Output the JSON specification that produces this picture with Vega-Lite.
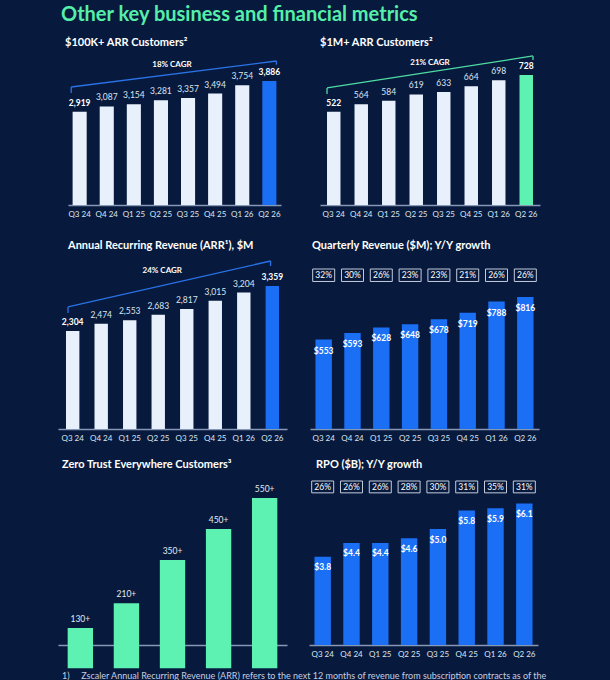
{
  "$schema": "https://vega.github.io/schema/vega-lite/v6.json",
  "background": "#071a3d",
  "padding": {"left": 58, "top": 5, "right": 80, "bottom": 20},
  "title": {
    "text": "Other key business and financial metrics",
    "color": "#55efaa",
    "fontSize": 20,
    "fontWeight": "bold",
    "anchor": "start",
    "dx": 3,
    "offset": 12
  },
  "datasets": {
    "c100k": [
      {"q": "Q3 24", "v": 2919}, {"q": "Q4 24", "v": 3087}, {"q": "Q1 25", "v": 3154}, {"q": "Q2 25", "v": 3281},
      {"q": "Q3 25", "v": 3357}, {"q": "Q4 25", "v": 3494}, {"q": "Q1 26", "v": 3754}, {"q": "Q2 26", "v": 3886}
    ],
    "c1m": [
      {"q": "Q3 24", "v": 522}, {"q": "Q4 24", "v": 564}, {"q": "Q1 25", "v": 584}, {"q": "Q2 25", "v": 619},
      {"q": "Q3 25", "v": 633}, {"q": "Q4 25", "v": 664}, {"q": "Q1 26", "v": 698}, {"q": "Q2 26", "v": 728}
    ],
    "arr": [
      {"q": "Q3 24", "v": 2304}, {"q": "Q4 24", "v": 2474}, {"q": "Q1 25", "v": 2553}, {"q": "Q2 25", "v": 2683},
      {"q": "Q3 25", "v": 2817}, {"q": "Q4 25", "v": 3015}, {"q": "Q1 26", "v": 3204}, {"q": "Q2 26", "v": 3359}
    ],
    "rev": [
      {"q": "Q3 24", "v": 553, "g": "32%"}, {"q": "Q4 24", "v": 593, "g": "30%"}, {"q": "Q1 25", "v": 628, "g": "26%"}, {"q": "Q2 25", "v": 648, "g": "23%"},
      {"q": "Q3 25", "v": 678, "g": "23%"}, {"q": "Q4 25", "v": 719, "g": "21%"}, {"q": "Q1 26", "v": 788, "g": "26%"}, {"q": "Q2 26", "v": 816, "g": "26%"}
    ],
    "zt": [
      {"q": "Q2 25", "v": 130, "label": "130+"}, {"q": "Q3 25", "v": 210, "label": "210+"}, {"q": "Q4 25", "v": 350, "label": "350+"},
      {"q": "Q1 26", "v": 450, "label": "450+"}, {"q": "Q2 26", "v": 550, "label": "550+"}
    ],
    "rpo": [
      {"q": "Q3 24", "v": 3.8, "g": "26%"}, {"q": "Q4 24", "v": 4.4, "g": "26%"}, {"q": "Q1 25", "v": 4.4, "g": "26%"}, {"q": "Q2 25", "v": 4.6, "g": "28%"},
      {"q": "Q3 25", "v": 5.0, "g": "30%"}, {"q": "Q4 25", "v": 5.8, "g": "31%"}, {"q": "Q1 26", "v": 5.9, "g": "35%"}, {"q": "Q2 26", "v": 6.1, "g": "31%"}
    ]
  },
  "vconcat": [
    {
      "hconcat": [
        {
          "width": 223,
          "height": 151,
          "title": {"text": "$100K+ ARR Customers²", "dx": 7, "offset": 6},
          "data": {"name": "c100k"},
          "layer": [
            {
              "mark": {"type": "bar"},
              "encoding": {
                "x": {"field": "q", "type": "ordinal", "title": null,
                  "scale": {"domain": ["Q3 24", "Q4 24", "Q1 25", "Q2 25", "Q3 25", "Q4 25", "Q1 26", "Q2 26"], "range": [10, 223], "paddingInner": 0.48, "paddingOuter": 0.17}},
                "y": {"field": "v", "type": "quantitative", "axis": null, "scale": {"domain": [0, 4732], "nice": false}},
                "color": {"condition": {"test": "datum.q === 'Q2 26'", "value": "#1b6ff5"}, "value": "#e8f0fb"}
              }
            },
            {
              "transform": [{"filter": "datum.q === 'Q3 24' || datum.q === 'Q2 26'"}],
              "mark": {"type": "text", "baseline": "bottom", "dy": -4, "fontSize": 8.5, "fontWeight": "bold", "color": "#ffffff"},
              "encoding": {
                "x": {"field": "q", "type": "ordinal", "title": null},
                "y": {"field": "v", "type": "quantitative", "axis": null},
                "text": {"field": "v", "type": "quantitative", "format": ","}
              }
            },
            {
              "transform": [{"filter": "datum.q !== 'Q3 24' && datum.q !== 'Q2 26'"}],
              "mark": {"type": "text", "baseline": "bottom", "dy": -4, "fontSize": 8.5, "color": "#dce4f0"},
              "encoding": {
                "x": {"field": "q", "type": "ordinal", "title": null},
                "y": {"field": "v", "type": "quantitative", "axis": null},
                "text": {"field": "v", "type": "quantitative", "format": ","}
              }
            },
            {
              "data": {"values": [{}]},
              "mark": {"type": "rule", "color": "#2a72e6", "strokeWidth": 1.3},
              "encoding": {
                "x": {"datum": "Q3 24", "type": "ordinal", "bandPosition": -0.1, "title": null},
                "x2": {"datum": "Q2 26", "bandPosition": 1},
                "y": {"datum": 3698, "type": "quantitative", "axis": null},
                "y2": {"datum": 4513}
              }
            },
            {
              "data": {"values": [{}]},
              "mark": {"type": "rule", "color": "#2a72e6", "strokeWidth": 1.3},
              "encoding": {
                "x": {"datum": "Q3 24", "type": "ordinal", "bandPosition": -0.1, "title": null},
                "y": {"datum": 3510, "type": "quantitative", "axis": null},
                "y2": {"datum": 3698}
              }
            },
            {
              "data": {"values": [{}]},
              "mark": {"type": "rule", "color": "#2a72e6", "strokeWidth": 1.3},
              "encoding": {
                "x": {"datum": "Q2 26", "type": "ordinal", "bandPosition": 1, "title": null},
                "y": {"datum": 4397, "type": "quantitative", "axis": null},
                "y2": {"datum": 4513}
              }
            },
            {
              "data": {"values": [{}]},
              "mark": {"type": "text", "fontSize": 8, "fontWeight": "bold", "color": "#ffffff", "baseline": "middle"},
              "encoding": {
                "x": {"datum": "Q3 25", "type": "ordinal", "bandPosition": -0.64, "title": null},
                "y": {"datum": 4387, "type": "quantitative", "axis": null},
                "text": {"value": "18% CAGR"}
              }
            }
          ]
        },
        {
          "width": 220,
          "height": 151,
          "title": {"text": "$1M+ ARR Customers²", "dx": 0, "offset": 6},
          "data": {"name": "c1m"},
          "layer": [
            {
              "mark": {"type": "bar"},
              "encoding": {
                "x": {"field": "q", "type": "ordinal", "title": null,
                  "scale": {"domain": ["Q3 24", "Q4 24", "Q1 25", "Q2 25", "Q3 25", "Q4 25", "Q1 26", "Q2 26"], "paddingInner": 0.51, "paddingOuter": 0.255}},
                "y": {"field": "v", "type": "quantitative", "axis": null, "scale": {"domain": [0, 845], "nice": false}},
                "color": {"condition": {"test": "datum.q === 'Q2 26'", "value": "#5ef2b2"}, "value": "#e8f0fb"}
              }
            },
            {
              "transform": [{"filter": "datum.q === 'Q3 24' || datum.q === 'Q2 26'"}],
              "mark": {"type": "text", "baseline": "bottom", "dy": -4, "fontSize": 8.5, "fontWeight": "bold", "color": "#ffffff"},
              "encoding": {
                "x": {"field": "q", "type": "ordinal", "title": null},
                "y": {"field": "v", "type": "quantitative", "axis": null},
                "text": {"field": "v", "type": "quantitative", "format": ","}
              }
            },
            {
              "transform": [{"filter": "datum.q !== 'Q3 24' && datum.q !== 'Q2 26'"}],
              "mark": {"type": "text", "baseline": "bottom", "dy": -4, "fontSize": 8.5, "color": "#dce4f0"},
              "encoding": {
                "x": {"field": "q", "type": "ordinal", "title": null},
                "y": {"field": "v", "type": "quantitative", "axis": null},
                "text": {"field": "v", "type": "quantitative", "format": ","}
              }
            },
            {
              "data": {"values": [{}]},
              "mark": {"type": "rule", "color": "#4fdca4", "strokeWidth": 1.3},
              "encoding": {
                "x": {"datum": "Q3 24", "type": "ordinal", "bandPosition": 0, "title": null},
                "x2": {"datum": "Q2 26", "bandPosition": 1},
                "y": {"datum": 655, "type": "quantitative", "axis": null},
                "y2": {"datum": 834}
              }
            },
            {
              "data": {"values": [{}]},
              "mark": {"type": "rule", "color": "#4fdca4", "strokeWidth": 1.3},
              "encoding": {
                "x": {"datum": "Q3 24", "type": "ordinal", "bandPosition": 0, "title": null},
                "y": {"datum": 621, "type": "quantitative", "axis": null},
                "y2": {"datum": 655}
              }
            },
            {
              "data": {"values": [{}]},
              "mark": {"type": "rule", "color": "#4fdca4", "strokeWidth": 1.3},
              "encoding": {
                "x": {"datum": "Q2 26", "type": "ordinal", "bandPosition": 1, "title": null},
                "y": {"datum": 812, "type": "quantitative", "axis": null},
                "y2": {"datum": 834}
              }
            },
            {
              "data": {"values": [{}]},
              "mark": {"type": "text", "fontSize": 8, "fontWeight": "bold", "color": "#ffffff", "baseline": "middle"},
              "encoding": {
                "x": {"datum": "Q3 25", "type": "ordinal", "bandPosition": -0.52, "title": null},
                "y": {"datum": 795, "type": "quantitative", "axis": null},
                "text": {"value": "21% CAGR"}
              }
            }
          ]
        }
      ],
      "spacing": 39
    },
    {
      "vconcat": [
        {
          "hconcat": [
            {
              "width": 229,
              "height": 176,
              "title": {"text": "Annual Recurring Revenue (ARR¹), $M", "dx": 10, "offset": 2},
              "data": {"name": "arr"},
              "layer": [
                {
                  "mark": {"type": "bar"},
                  "encoding": {
                    "x": {"field": "q", "type": "ordinal", "title": null,
                      "scale": {"domain": ["Q3 24", "Q4 24", "Q1 25", "Q2 25", "Q3 25", "Q4 25", "Q1 26", "Q2 26"], "paddingInner": 0.53, "paddingOuter": 0.28}},
                    "y": {"field": "v", "type": "quantitative", "axis": null, "scale": {"domain": [0, 4134], "nice": false}},
                    "color": {"condition": {"test": "datum.q === 'Q2 26'", "value": "#1b6ff5"}, "value": "#e8f0fb"}
                  }
                },
                {
                  "transform": [{"filter": "datum.q === 'Q3 24' || datum.q === 'Q2 26'"}],
                  "mark": {"type": "text", "baseline": "bottom", "dy": -4, "fontSize": 8.5, "fontWeight": "bold", "color": "#ffffff"},
                  "encoding": {
                    "x": {"field": "q", "type": "ordinal", "title": null},
                    "y": {"field": "v", "type": "quantitative", "axis": null},
                    "text": {"field": "v", "type": "quantitative", "format": ","}
                  }
                },
                {
                  "transform": [{"filter": "datum.q !== 'Q3 24' && datum.q !== 'Q2 26'"}],
                  "mark": {"type": "text", "baseline": "bottom", "dy": -4, "fontSize": 8.5, "color": "#dce4f0"},
                  "encoding": {
                    "x": {"field": "q", "type": "ordinal", "title": null},
                    "y": {"field": "v", "type": "quantitative", "axis": null},
                    "text": {"field": "v", "type": "quantitative", "format": ","}
                  }
                },
                {
                  "data": {"values": [{}]},
                  "mark": {"type": "rule", "color": "#2a72e6", "strokeWidth": 1.3},
                  "encoding": {
                    "x": {"datum": "Q3 24", "type": "ordinal", "bandPosition": 0.15, "title": null},
                    "x2": {"datum": "Q2 26", "bandPosition": 0.37},
                    "y": {"datum": 2866, "type": "quantitative", "axis": null},
                    "y2": {"datum": 3946}
                  }
                },
                {
                  "data": {"values": [{}]},
                  "mark": {"type": "rule", "color": "#2a72e6", "strokeWidth": 1.3},
                  "encoding": {
                    "x": {"datum": "Q3 24", "type": "ordinal", "bandPosition": 0.15, "title": null},
                    "y": {"datum": 2725, "type": "quantitative", "axis": null},
                    "y2": {"datum": 2866}
                  }
                },
                {
                  "data": {"values": [{}]},
                  "mark": {"type": "rule", "color": "#2a72e6", "strokeWidth": 1.3},
                  "encoding": {
                    "x": {"datum": "Q2 26", "type": "ordinal", "bandPosition": 0.37, "title": null},
                    "y": {"datum": 3829, "type": "quantitative", "axis": null},
                    "y2": {"datum": 3946}
                  }
                },
                {
                  "data": {"values": [{}]},
                  "mark": {"type": "text", "fontSize": 8, "fontWeight": "bold", "color": "#ffffff", "baseline": "middle"},
                  "encoding": {
                    "x": {"datum": "Q2 25", "type": "ordinal", "bandPosition": 0.8, "title": null},
                    "y": {"datum": 3719, "type": "quantitative", "axis": null},
                    "text": {"value": "24% CAGR"}
                  }
                }
              ]
            },
            {
              "width": 229,
              "height": 176,
              "title": {"text": "Quarterly Revenue ($M); Y/Y growth", "dx": 2, "offset": 2},
              "data": {"name": "rev"},
              "layer": [
                {
                  "mark": {"type": "bar", "color": "#1b6ff5"},
                  "encoding": {
                    "x": {"field": "q", "type": "ordinal", "title": null,
                      "scale": {"domain": ["Q3 24", "Q4 24", "Q1 25", "Q2 25", "Q3 25", "Q4 25", "Q1 26", "Q2 26"], "paddingInner": 0.43, "paddingOuter": 0.19}},
                    "y": {"field": "v", "type": "quantitative", "axis": null, "scale": {"domain": [0, 1088], "nice": false}}
                  }
                },
                {
                  "mark": {"type": "text", "baseline": "middle", "dy": 11, "fontSize": 8.5, "fontWeight": "bold", "color": "#ffffff"},
                  "encoding": {
                    "x": {"field": "q", "type": "ordinal", "title": null},
                    "y": {"field": "v", "type": "quantitative", "axis": null},
                    "text": {"field": "v", "type": "quantitative", "format": "$.0f"}
                  }
                },
                {
                  "mark": {"type": "bar", "size": 22, "fill": "transparent", "stroke": "#c3cbdb", "strokeWidth": 1},
                  "encoding": {
                    "x": {"field": "q", "type": "ordinal", "title": null},
                    "y": {"datum": 989, "type": "quantitative", "axis": null},
                    "y2": {"datum": 912}
                  }
                },
                {
                  "mark": {"type": "text", "baseline": "middle", "fontSize": 8.5, "color": "#ffffff"},
                  "encoding": {
                    "x": {"field": "q", "type": "ordinal", "title": null},
                    "y": {"datum": 952, "type": "quantitative", "axis": null},
                    "text": {"field": "g", "type": "nominal"}
                  }
                }
              ]
            }
          ],
          "spacing": 23
        },
        {
          "hconcat": [
            {
              "width": 229,
              "height": 167,
              "title": {"text": "Zero Trust Everywhere Customers³", "dx": 4, "offset": 8},
              "data": {"name": "zt"},
              "layer": [
                {
                  "mark": {"type": "bar", "color": "#5ef2b2"},
                  "encoding": {
                    "x": {"field": "q", "type": "ordinal", "title": null,
                      "scale": {"domain": ["Q2 25", "Q3 25", "Q4 25", "Q1 26", "Q2 26"], "paddingInner": 0.45, "paddingOuter": 0.21}},
                    "y": {"field": "v", "type": "quantitative", "axis": null, "scale": {"domain": [75, 615], "nice": false, "zero": false}}
                  }
                },
                {
                  "mark": {"type": "text", "baseline": "bottom", "dy": -4, "fontSize": 8.5, "color": "#e4eaf4"},
                  "encoding": {
                    "x": {"field": "q", "type": "ordinal", "title": null},
                    "y": {"field": "v", "type": "quantitative", "axis": null},
                    "text": {"field": "label", "type": "nominal"}
                  }
                }
              ]
            },
            {
              "width": 229,
              "height": 167,
              "title": {"text": "RPO ($B); Y/Y growth", "dx": 7, "offset": 8},
              "data": {"name": "rpo"},
              "layer": [
                {
                  "mark": {"type": "bar", "color": "#1b6ff5"},
                  "encoding": {
                    "x": {"field": "q", "type": "ordinal", "title": null,
                      "scale": {"domain": ["Q3 24", "Q4 24", "Q1 25", "Q2 25", "Q3 25", "Q4 25", "Q1 26", "Q2 26"], "paddingInner": 0.43, "paddingOuter": 0.19}},
                    "y": {"field": "v", "type": "quantitative", "axis": null, "scale": {"domain": [0, 7.2], "nice": false}}
                  }
                },
                {
                  "mark": {"type": "text", "baseline": "middle", "dy": 10.5, "fontSize": 8.5, "fontWeight": "bold", "color": "#ffffff"},
                  "encoding": {
                    "x": {"field": "q", "type": "ordinal", "title": null},
                    "y": {"field": "v", "type": "quantitative", "axis": null},
                    "text": {"field": "v", "type": "quantitative", "format": "$.1f"}
                  }
                },
                {
                  "mark": {"type": "bar", "size": 22, "fill": "transparent", "stroke": "#c3cbdb", "strokeWidth": 1},
                  "encoding": {
                    "x": {"field": "q", "type": "ordinal", "title": null},
                    "y": {"datum": 7.07, "type": "quantitative", "axis": null},
                    "y2": {"datum": 6.56}
                  }
                },
                {
                  "mark": {"type": "text", "baseline": "middle", "fontSize": 8.5, "color": "#ffffff"},
                  "encoding": {
                    "x": {"field": "q", "type": "ordinal", "title": null},
                    "y": {"datum": 6.82, "type": "quantitative", "axis": null},
                    "text": {"field": "g", "type": "nominal"}
                  }
                }
              ]
            }
          ],
          "spacing": 22,
          "title": {
            "text": "1)\u00a0\u00a0\u00a0\u00a0\u00a0Zscaler Annual Recurring Revenue (ARR) refers to the next 12 months of revenue from subscription contracts as of the",
            "orient": "bottom",
            "anchor": "start",
            "fontSize": 9,
            "fontWeight": "normal",
            "color": "#c5cde0",
            "dx": 4,
            "offset": 4
          }
        }
      ],
      "spacing": 17
    }
  ],
  "spacing": 22,
  "config": {
    "font": "Lato",
    "view": {"stroke": null},
    "axisX": {"labelAngle": 0, "ticks": false, "domainColor": "#8797b8", "domainWidth": 1.5, "labelColor": "#dce4f0", "labelFontSize": 8, "labelPadding": 5, "grid": false},
    "axisY": {"disable": true},
    "title": {"anchor": "start", "color": "#ffffff", "fontSize": 11, "fontWeight": "bold", "font": "Lato"}
  }
}
